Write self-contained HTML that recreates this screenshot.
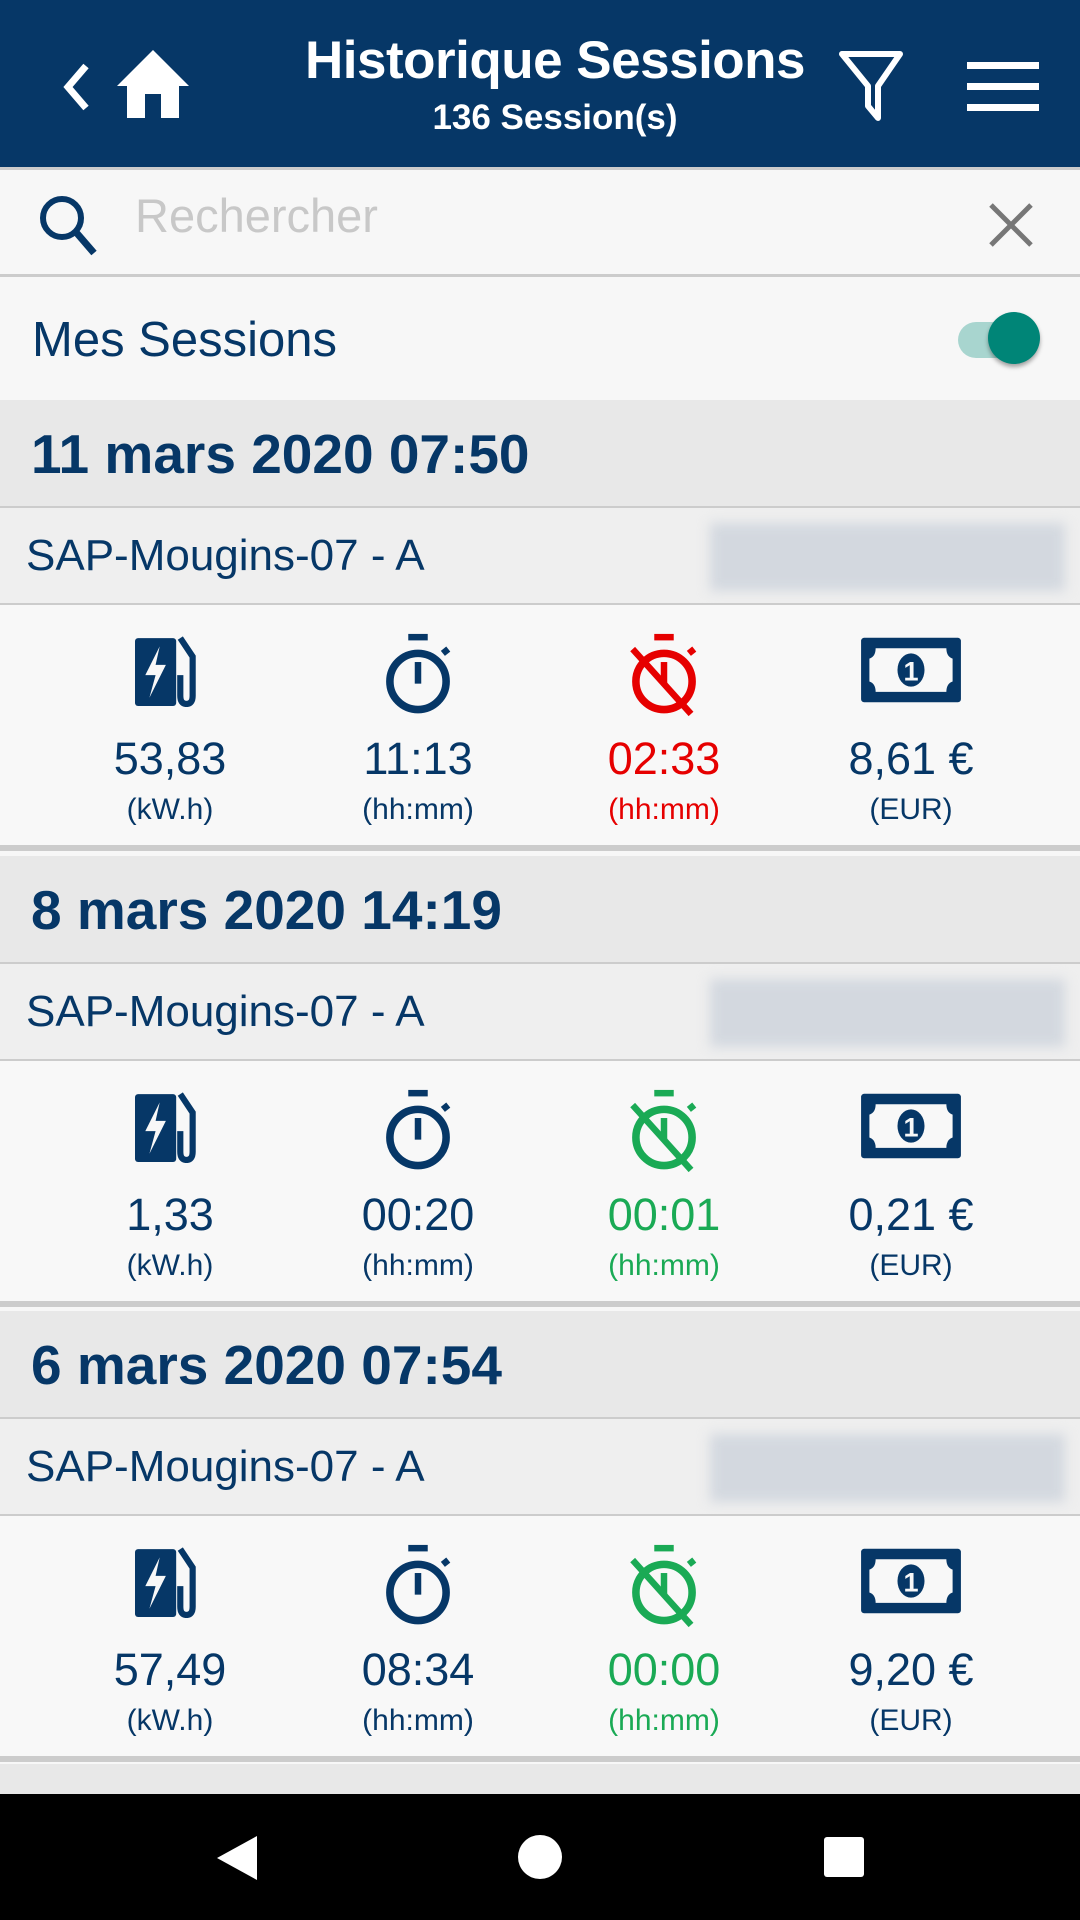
<!DOCTYPE html>
<html><head><meta charset="utf-8">
<style>
*{margin:0;padding:0;box-sizing:border-box}
body{width:1080px;height:1920px;overflow:hidden;background:#f7f7f7;font-family:"Liberation Sans",sans-serif;color:#063767;position:relative}
.abs{position:absolute}
#hdr{left:0;top:0;width:1080px;height:167px;background:#063767;color:#fff}
.title{left:0;width:1110px;text-align:center;top:30px;font-size:53px;font-weight:bold;letter-spacing:-0.5px}
.sub{left:0;width:1110px;text-align:center;top:98px;font-size:35px;font-weight:bold}
#search{top:167px;left:0;width:1080px;height:110px;border-top:3px solid #ccc;border-bottom:3px solid #ccc;background:#f7f7f7}
#mes{top:277px;left:0;width:1080px;height:123px;background:#f7f7f7}
.sec{left:0;width:1080px;height:456px}
.date{height:108px;background:#e8e8e8;border-bottom:2px solid #ccc;font-size:55px;font-weight:bold;padding-left:31px;line-height:108px}
.station{height:97px;background:#efefef;border-bottom:2px solid #ccc;font-size:44px;padding-left:26px;line-height:95px;position:relative}
.blur{position:absolute;top:15px;right:15px;width:355px;height:68px;background:#d3d8df;filter:blur(6px)}
.stats{height:246px;background:#f8f8f8;border-bottom:6px solid #ccc;position:relative}
.col{position:absolute;top:0;width:240px;text-align:center}
.col svg{position:absolute;left:50%;transform:translateX(-50%);top:28px}
.val{position:absolute;top:128px;width:100%;font-size:45px}
.unit{position:absolute;top:188px;width:100%;font-size:30px}
.red{color:#e60000}.green{color:#1aaa55}
#nav{left:0;top:1794px;width:1080px;height:126px;background:#000}
</style></head><body>
<div id="hdr" class="abs">
 <svg class="abs" style="left:60px;top:62px" width="32" height="50"><polyline points="26,4 8,25 26,46" fill="none" stroke="#fff" stroke-width="7"/></svg>
 <svg class="abs" style="left:117px;top:50px" width="72" height="68"><path d="M36,0 L72,36 L62,36 L62,68 L44,68 L44,44 L28,44 L28,68 L10,68 L10,36 L0,36 Z" fill="#fff"/></svg>
 <div class="abs title">Historique Sessions</div>
 <div class="abs sub">136 Session(s)</div>
 <svg class="abs" style="left:838px;top:50px" width="66" height="72"><path d="M4,4 L62,4 L40,36 L40,68 L30,56 L30,36 Z" fill="none" stroke="#fff" stroke-width="6" stroke-linejoin="round"/></svg>
 <svg class="abs" style="left:967px;top:62px" width="72" height="50"><rect y="0" width="72" height="7" fill="#fff"/><rect y="21" width="72" height="7" fill="#fff"/><rect y="42" width="72" height="7" fill="#fff"/></svg>
</div>
<div id="search" class="abs">
 <svg class="abs" style="left:36px;top:22px" width="64" height="64"><circle cx="26" cy="26" r="19" fill="none" stroke="#063767" stroke-width="6"/><line x1="39" y1="39" x2="58" y2="61" stroke="#063767" stroke-width="7"/></svg>
 <div class="abs" style="left:135px;top:18px;font-size:47px;color:#c8c8c8">Rechercher</div>
 <svg class="abs" style="left:988px;top:32px" width="46" height="46"><line x1="3" y1="3" x2="43" y2="43" stroke="#777" stroke-width="5"/><line x1="43" y1="3" x2="3" y2="43" stroke="#777" stroke-width="5"/></svg>
</div>
<div id="mes" class="abs">
 <div class="abs" style="left:32px;top:35px;font-size:49px">Mes Sessions</div>
 <div class="abs" style="left:958px;top:45px;width:64px;height:36px;border-radius:18px;background:#a8d5cf"></div>
 <div class="abs" style="left:988px;top:35px;width:52px;height:52px;border-radius:26px;background:#008577;box-shadow:0 3px 4px rgba(0,0,0,.35)"></div>
</div>

<div id="sections"></div>
<div class="abs" style="top:1764px;left:0;width:1080px;height:30px;background:#e8e8e8"></div>
<div id="nav" class="abs">
 <svg class="abs" style="left:215px;top:40px" width="44" height="48"><polygon points="42,2 42,46 2,24" fill="#fff"/></svg>
 <div class="abs" style="left:518px;top:41px;width:44px;height:44px;border-radius:22px;background:#fff"></div>
 <div class="abs" style="left:824px;top:43px;width:40px;height:40px;border-radius:3px;background:#fff"></div>
</div>
<script>
const dates=["11 mars 2020 07:50","8 mars 2020 14:19","6 mars 2020 07:54"];
const energy=["53,83","1,33","57,49"];
const durations=["11:13","00:20","08:34"];
const idle=["02:33","00:01","00:00"];
const idleColor=["red","green","green"];
const costs=["8,61 €","0,21 €","9,20 €"];
const N='#063767';
function charger(c){return `<svg width="70" height="74" viewBox="0 0 68 70"><rect x="0" y="4" width="40" height="66" rx="3" fill="${c}"/><polygon points="24,12 10,40 20,40 14,62 30,30 20,30" fill="#f8f8f8"/><path d="M44,4 L56,22 L56,60 Q56,68 50,68 Q44,68 44,60 L44,40" fill="none" stroke="${c}" stroke-width="6"/></svg>`}
function watch(c,slash){const col=c;return `<svg width="80" height="84" viewBox="0 0 74 76"><rect x="28" y="0" width="18" height="6" fill="${col}"/><circle cx="37" cy="44" r="26" fill="none" stroke="${col}" stroke-width="7"/><line x1="37" y1="26" x2="37" y2="46" stroke="${col}" stroke-width="6"/><line x1="60" y1="18" x2="65" y2="14" stroke="${col}" stroke-width="6"/>${slash?`<line x1="8" y1="14" x2="62" y2="74" stroke="${col}" stroke-width="6"/>`:''}</svg>`}
function note(c){return `<svg width="104" height="72" viewBox="0 0 100 68"><rect x="2" y="4" width="96" height="62" rx="3" fill="${c}"/><path d="M16,14 L84,14 Q84,22 90,24 L90,46 Q84,48 84,56 L16,56 Q16,48 10,46 L10,24 Q16,22 16,14Z" fill="#f8f8f8"/><ellipse cx="50" cy="35" rx="13" ry="16" fill="${c}"/><text x="50" y="45" text-anchor="middle" font-size="26" font-weight="bold" fill="#f8f8f8" font-family="Liberation Sans">1</text></svg>`}
const host=document.getElementById('sections');
const cx=[170,418,664,911];
dates.forEach((d,i)=>{
 const s=document.createElement('div');
 s.className='abs sec';s.style.top=(400+i*455.5)+'px';
 
 
 const ic=idleColor[i]==='red'?'#e60000':'#1aaa55';
 const cols=[[charger(N),energy[i],'(kW.h)','','energy'],[watch(N,false),durations[i],'(hh:mm)','','duration'],[watch(ic,true),idle[i],'(hh:mm)',idleColor[i],'idle-time'],[note(N),costs[i],'(EUR)','','cost']];
 s.innerHTML=`<div class="date">${d}</div><div class="station">SAP-Mougins-07 - A<div class="blur"></div></div><div class="stats">${cols.map((c,j)=>`<div class="col ${c[3]}" style="left:${cx[j]-120}px">${c[0]}<div class="val">${c[1]}</div><div class="unit">${c[2]}</div></div>`).join('')}</div>`;
 host.appendChild(s);
});
</script>
</body></html>
